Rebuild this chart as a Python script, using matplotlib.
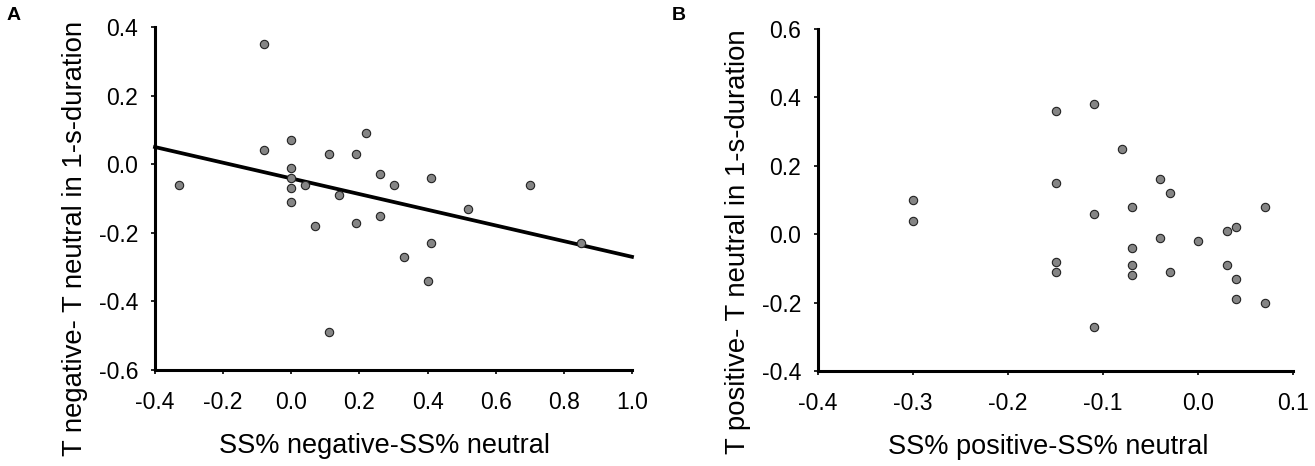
import matplotlib
matplotlib.use("Agg")
import matplotlib.pyplot as plt
import numpy as np

plt.rcParams['font.family'] = ['Liberation Sans', 'DejaVu Sans']

# Panel A data
a_x = [-0.33, -0.08, -0.08, 0.0, 0.0, 0.0, 0.0, 0.0, 0.04, 0.07, 0.11, 0.11, 0.14,
       0.19, 0.19, 0.22, 0.26, 0.26, 0.30, 0.33, 0.41, 0.41, 0.40, 0.52, 0.70, 0.85]
a_y = [-0.06, 0.35, 0.04, 0.07, -0.01, -0.04, -0.07, -0.11, -0.06, -0.18, 0.03, -0.49, -0.09,
       0.03, -0.17, 0.09, -0.03, -0.15, -0.06, -0.27, -0.04, -0.23, -0.34, -0.13, -0.06, -0.23]
fit_x = [-0.4, 1.0]
fit_y = [0.05, -0.27]

# Panel B data
b_x = [-0.30, -0.30, -0.15, -0.15, -0.15, -0.15, -0.11, -0.11, -0.11, -0.08, -0.07, -0.07, -0.07,
       -0.07, -0.04, -0.04, -0.03, -0.03, 0.0, 0.03, 0.03, 0.04, 0.04, 0.04, 0.07, 0.07]
b_y = [0.10, 0.04, 0.36, 0.15, -0.08, -0.11, 0.38, 0.06, -0.27, 0.25, 0.08, -0.04, -0.09,
       -0.12, 0.16, -0.01, 0.12, -0.11, -0.02, 0.01, -0.09, 0.02, -0.13, -0.19, 0.08, -0.20]

a_xticks = [-0.4, -0.2, 0.0, 0.2, 0.4, 0.6, 0.8, 1.0]
a_yticks = [-0.6, -0.4, -0.2, 0.0, 0.2, 0.4]
b_xticks = [-0.4, -0.3, -0.2, -0.1, 0.0, 0.1]
b_yticks = [-0.4, -0.2, 0.0, 0.2, 0.4, 0.6]

W, H = 1315, 466
fig = plt.figure(figsize=(W / 100, H / 100), dpi=100)

def make_ax(l, r, t, b):
    return fig.add_axes([l / W, 1 - b / H, (r - l) / W, (b - t) / H])

axA = make_ax(155, 632, 27, 370)
axB = make_ax(818, 1293, 29, 371)

def style(ax, xt, yt, xlabel, ylabel, xl_pos, yl_pos):
    for s in ['top', 'right']:
        ax.spines[s].set_visible(False)
    for s in ['left', 'bottom']:
        ax.spines[s].set_linewidth(2.2)
        ax.spines[s].set_color('black')
    ax.set_xticks(xt)
    ax.set_yticks(yt)
    ax.set_xticklabels([f"{v:.1f}" for v in xt])
    ax.set_yticklabels([f"{v:.1f}" for v in yt])
    ax.set_xlim(xt[0], xt[-1])
    ax.set_ylim(yt[0], yt[-1])
    ax.tick_params(direction='out', length=3, width=1.2, labelsize=16.5)
    ax.tick_params(axis='y', pad=9)
    ax.tick_params(axis='x', pad=12)
    ax.set_xlabel(xlabel, fontsize=19.5, labelpad=11)
    ax.set_ylabel(ylabel, fontsize=19.8, labelpad=8)
    ax.xaxis.set_label_coords(xl_pos, -0.185)
    ax.yaxis.label.set_y(yl_pos)
    for s in ax.spines.values():
        s.set_clip_on(False)

axA.plot(fit_x, fit_y, color='black', lw=2.7, zorder=2, clip_on=False)
axA.plot(a_x, a_y, 'o', ms=6, mfc='#858585', mec='#222222', mew=0.8, zorder=3, clip_on=False)
style(axA, a_xticks, a_yticks, 'SS% negative-SS% neutral', 'T negative- T neutral in 1-s-duration',
      0.482, 0.385)

axB.plot(b_x, b_y, 'o', ms=6, mfc='#858585', mec='#222222', mew=0.8, zorder=3, clip_on=False)
style(axB, b_xticks, b_yticks, 'SS% positive-SS% neutral', 'T positive- T neutral in 1-s-duration',
      0.484, 0.377)

fig.text(7 / W, 1 - 16 / H, 'A', fontsize=14, fontweight='bold', va='center', ha='left')
fig.text(672 / W, 1 - 16 / H, 'B', fontsize=14, fontweight='bold', va='center', ha='left')

fig.savefig('out.png', dpi=100)
